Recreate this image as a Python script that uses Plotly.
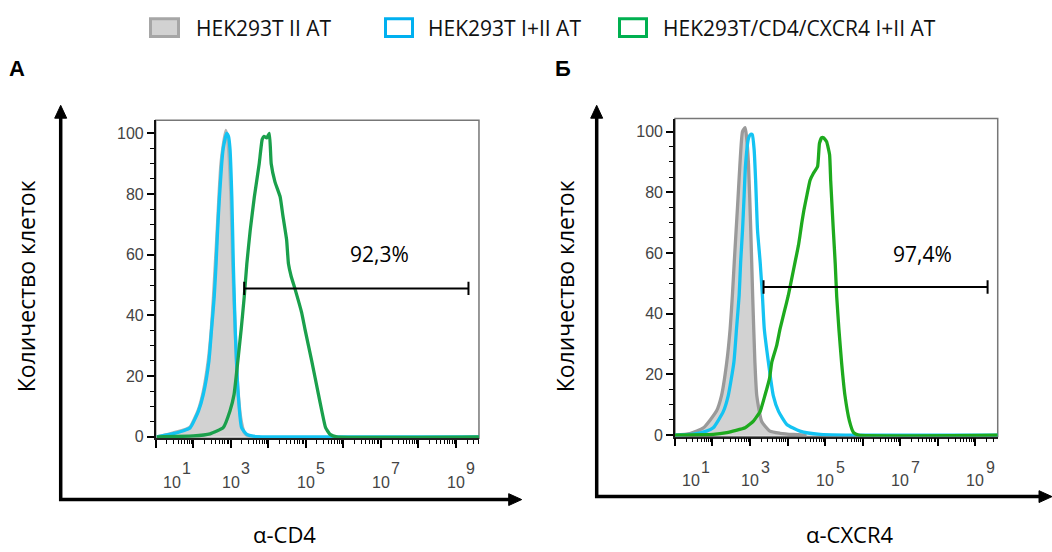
import plotly.graph_objects as go

# ---------------- data (log10 fluorescence, % of max count) ----------------
A_gray_log = [1.03,1.38,1.74,1.92,2.14,2.27,2.40,2.48,2.54,2.59,2.64,2.69,2.74,2.80,2.87,2.92,2.96,3.01,3.05,3.11,3.18,3.27,3.36,3.47,3.78]
A_gray_cnt = [0,1,2.2,3.3,9,15,25,35,46,57,68,80,90,96,101,98,92,78,58,38,18,6,1.5,0.3,0]

A_blue_log = [1.03,1.38,1.74,1.92,2.14,2.27,2.42,2.49,2.56,2.61,2.65,2.70,2.76,2.80,2.89,2.94,2.98,3.03,3.07,3.12,3.20,3.29,3.43,3.60,3.96,9.62]
A_blue_cnt = [0,0.8,2,3,8.5,14,25,35.5,46,57,68,79,90,95,100,99,95,79,57,35.5,14,3,0.8,0.2,0,0]

A_green_log = [1.03,2.00,2.45,2.80,2.98,3.09,3.19,3.28,3.36,3.43,3.52,3.63,3.76,3.84,3.89,3.96,4.03,4.08,4.18,4.32,4.39,4.49,4.54,4.61,4.72,4.89,4.98,5.16,5.34,5.43,5.53,5.65,5.83,9.62]
A_green_cnt = [0,0.3,1,3,8.5,14,25,35.5,46,57,68,79,90,98,99,98.5,100,90,84,79,73,65,57,53,48.5,41,35.5,25,14,8.5,3,0.8,0,0]

B_gray_log = [1.00,1.40,1.76,2.11,2.24,2.38,2.47,2.53,2.58,2.63,2.68,2.73,2.80,2.87,2.91,2.96,3.02,3.07,3.13,3.18,3.31,3.53,3.80,4.16,4.51]
B_gray_cnt = [0,0.5,2.4,8,13,24,35,46,57,67.5,78,89,100,101.3,98,89,67.5,46,24,13,4.5,1.3,0.6,0.2,0]

B_blue_log = [1.00,1.49,1.84,2.02,2.29,2.42,2.57,2.64,2.71,2.75,2.80,2.84,2.88,2.96,3.02,3.06,3.11,3.15,3.20,3.27,3.33,3.38,3.49,3.62,3.76,3.98,4.33,4.87,5.58,9.60]
B_blue_cnt = [0,0.3,1.3,2.4,7.8,13,24,35,46,57,67.5,78,89,97.8,99.1,99,94,83.7,67.5,57,46,35,24,13,7.8,3.5,1.3,0.2,0,0]

B_green_log = [1.00,2.02,2.38,2.87,3.09,3.27,3.40,3.52,3.58,3.71,3.80,3.91,4.02,4.11,4.20,4.29,4.33,4.38,4.44,4.51,4.60,4.69,4.80,4.85,4.91,4.96,5.04,5.12,5.15,5.22,5.27,5.31,5.37,5.44,5.53,5.65,5.76,5.89,9.60]
B_green_cnt = [0,0.2,0.8,2.4,4.6,7.8,13.2,18.7,24,29.5,35,40.5,46,51.5,57,62.5,65.7,70,74.4,78.7,84,86.3,88.5,96.1,98,98,96.7,92.4,83.7,67.5,56.6,45.6,34.7,23.9,13,4.6,0.8,0,0]

A_gate_log = [3.36, 9.34]
B_gate_log = [3.36, 9.33]
gate_level = [48.9, 48.8]
gate_text = ["92,3%", "97,4%"]
gate_text_pos = [(6.96, 60.2), (7.6, 59.7)]

legend_names = ["HEK293T II AT", "HEK293T I+II AT", "HEK293T/CD4/CXCR4 I+II AT"]
xtick_exp = [1, 3, 5, 7, 9]
ytick_vals = [0, 20, 40, 60, 80, 100]
x_titles = ["α-CD4", "α-CXCR4"]
y_title = "Количество клеток"
panel_letters = ["А", "Б"]

# ---------------- figure ----------------
W, H = 1052, 552
def px(x):
    return x / W
def py(y):
    return 1 - y / H

BLUE = "#14c3f2"
GREENA = "#1aa04c"
GREENB = "#1eaa1e"
GRAYFILL = "#d2d2d2"
LW = 3.3

fig = go.Figure()

def note(**kw):
    kw.setdefault("showarrow", False)
    kw.setdefault("xanchor", "center")
    kw.setdefault("yanchor", "middle")
    fig.add_annotation(**kw)

def add_panel(xa, ya, gray_log, gray_cnt, gray_line, blue_log, blue_cnt, green_log, green_cnt, green_col,
              gate_log, glevel, gtext, gpos):
    fig.add_trace(go.Scatter(x=[10 ** v for v in gray_log], y=gray_cnt, mode="lines", fill="tozeroy",
                             fillcolor=GRAYFILL, line=dict(color=gray_line, width=LW, shape="spline", smoothing=0.5),
                             xaxis=xa, yaxis=ya, showlegend=False, hoverinfo="skip"))
    fig.add_trace(go.Scatter(x=[10 ** v for v in blue_log], y=blue_cnt, mode="lines",
                             line=dict(color=BLUE, width=LW, shape="spline", smoothing=0.5),
                             xaxis=xa, yaxis=ya, showlegend=False, hoverinfo="skip"))
    fig.add_trace(go.Scatter(x=[10 ** v for v in green_log], y=green_cnt, mode="lines",
                             line=dict(color=green_col, width=LW, shape="spline", smoothing=0.4),
                             xaxis=xa, yaxis=ya, showlegend=False, hoverinfo="skip"))
    # gate bar
    g0, g1 = 10 ** gate_log[0], 10 ** gate_log[1]
    fig.add_trace(go.Scatter(x=[g0, g1, None, g0, g0, None, g1, g1],
                             y=[glevel, glevel, None, glevel - 2.2, glevel + 2.2, None, glevel - 2.2, glevel + 2.2],
                             mode="lines", line=dict(color="black", width=2),
                             xaxis=xa, yaxis=ya, showlegend=False, hoverinfo="skip"))
    note(x=gpos[0], y=gpos[1], xref=xa, yref=ya, text=gtext,
         font=dict(family="Open Sans", size=21, color="black"))

add_panel("x", "y", A_gray_log, A_gray_cnt, "#b4b4b4", A_blue_log, A_blue_cnt, A_green_log, A_green_cnt, GREENA,
          A_gate_log, gate_level[0], gate_text[0], gate_text_pos[0])
add_panel("x2", "y2", B_gray_log, B_gray_cnt, "#9a9a9a", B_blue_log, B_blue_cnt, B_green_log, B_green_cnt, GREENB,
          B_gate_log, gate_level[1], gate_text[1], gate_text_pos[1])

minor_x = [m * 10 ** k for k in range(0, 10) for m in range(2, 10)]
xaxis_common = dict(type="log", tickvals=[10 ** k for k in range(1, 10)], showticklabels=False,
                    ticks="outside", ticklen=8, tickwidth=1.5, tickcolor="black",
                    minor=dict(tickvals=minor_x, ticks="outside", ticklen=4, tickwidth=1, tickcolor="black"),
                    showline=True, linecolor="#222", linewidth=1.5, showgrid=False, zeroline=False)
yaxis_common = dict(range=[-0.5, 104.3], tickvals=ytick_vals, ticks="outside", ticklen=7, tickwidth=1.5,
                    tickcolor="black", minor=dict(dtick=5, ticks="outside", ticklen=4, tickwidth=1, tickcolor="black"),
                    showline=True, linecolor="#111", linewidth=1.5, showgrid=False, zeroline=False,
                    tickfont=dict(family="Liberation Sans", size=16, color="#444"))

fig.update_layout(
    width=W, height=H, margin=dict(l=0, r=0, t=0, b=0),
    paper_bgcolor="white", plot_bgcolor="white", showlegend=False,
    xaxis=dict(domain=[0.1480, 0.4553], range=[1, 9.62], anchor="y", **xaxis_common),
    yaxis=dict(domain=[0.1957, 0.7793], anchor="x", **yaxis_common),
    xaxis2=dict(domain=[0.6416, 0.9484], range=[1, 9.60], anchor="y2", **xaxis_common),
    yaxis2=dict(domain=[0.1989, 0.7824], anchor="x2", **yaxis_common),
)

# frames (top/right in gray)
for xa, ya in [("x", "y"), ("x2", "y2")]:
    fig.add_shape(type="rect", xref=f"{xa} domain", yref=f"{ya} domain", x0=0, x1=1, y0=0, y1=1,
                  line=dict(color="#777", width=1.5), layer="below")

# x tick labels (10^n)
for xa, ypos in [("x", 489), ("x2", 487)]:
    for k in xtick_exp:
        shift = 16 if k == 1 else 0
        note(x=k, y=py(ypos), xref=xa, yref="paper", text="10", xshift=shift,
             font=dict(family="Liberation Sans", size=16, color="#444"))
        note(x=k, y=py(ypos - 14), xref=xa, yref="paper", text=str(k), xshift=shift + 15,
             font=dict(family="Liberation Sans", size=16, color="#444"))

# big arrows
def arrow_v(x, ybot, ytip):
    fig.add_shape(type="line", xref="paper", yref="paper", x0=px(x), x1=px(x), y0=py(ybot), y1=py(ytip + 10),
                  line=dict(color="black", width=3.5))
    fig.add_shape(type="path", xref="paper", yref="paper",
                  path=f"M {px(x-6)} {py(ytip+13)} L {px(x)} {py(ytip)} L {px(x+6)} {py(ytip+13)} Z",
                  fillcolor="black", line=dict(color="black", width=1))

def arrow_h(y, xl, xtip):
    fig.add_shape(type="line", xref="paper", yref="paper", x0=px(xl), x1=px(xtip - 10), y0=py(y), y1=py(y),
                  line=dict(color="black", width=3.5))
    fig.add_shape(type="path", xref="paper", yref="paper",
                  path=f"M {px(xtip-13)} {py(y-6)} L {px(xtip)} {py(y)} L {px(xtip-13)} {py(y+6)} Z",
                  fillcolor="black", line=dict(color="black", width=1))

arrow_v(60.7, 507.5, 106.7)
arrow_h(506, 59, 521.7)
arrow_v(596.7, 504.5, 106.7)
arrow_h(503, 595, 1052)

# axis titles
for xc, xt, lx in [(284, x_titles[0], 26), (850, x_titles[1], 565)]:
    note(x=px(xc), y=py(541), xref="paper", yref="paper", text=xt,
         font=dict(family="Open Sans", size=22, color="black"))
    note(x=px(lx), y=py(290), xref="paper", yref="paper", text=y_title, textangle=-90,
         font=dict(family="Open Sans", size=23, color="black"))

# panel letters
for xl, letter in [(17, panel_letters[0]), (563, panel_letters[1])]:
    note(x=px(xl), y=py(69), xref="paper", yref="paper", text=f"<b>{letter}</b>",
         font=dict(family="Liberation Sans", size=22, color="black"))

# legend
leg_boxes = [(149, 180, GRAYFILL, "#a6a6a6"), (384, 414, "white", "#00b0f0"), (618, 648, "white", "#00b050")]
leg_text_x = [194, 426, 661]
for (x0, x1, fc, lc), tx, name in zip(leg_boxes, leg_text_x, legend_names):
    fig.add_shape(type="rect", xref="paper", yref="paper", x0=px(x0 + 1.5), x1=px(x1 - 1.5),
                  y0=py(37), y1=py(19), fillcolor=fc, line=dict(color=lc, width=3))
    note(x=px(tx), y=py(28), xref="paper", yref="paper", text=name, xanchor="left",
         font=dict(family="Open Sans", size=21, color="#111"))

fig.write_html("out.html")
